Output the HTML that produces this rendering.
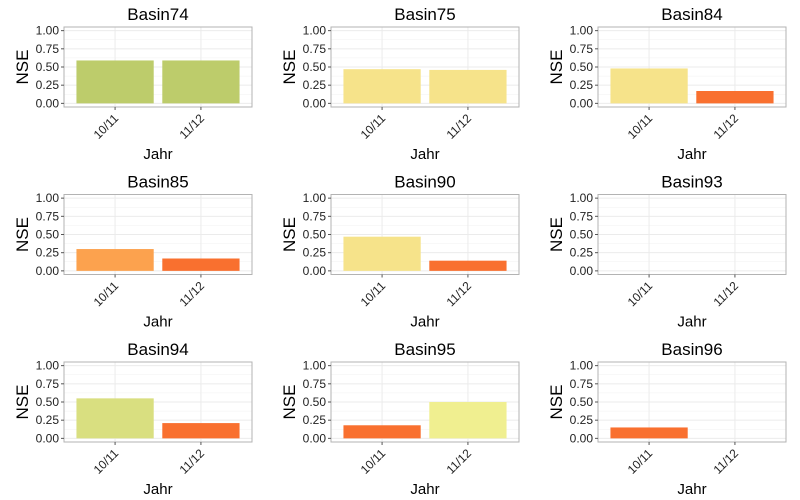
<!DOCTYPE html>
<html><head><meta charset="utf-8">
<style>
body{margin:0;background:#fff;}
svg{display:block;font-family:"Liberation Sans",Arial,sans-serif;}
</style></head>
<body>
<svg id="c" width="800" height="500" xmlns="http://www.w3.org/2000/svg"></svg>
<script>
const basins = ["Basin74","Basin75","Basin84","Basin85","Basin90","Basin93","Basin94","Basin95","Basin96"];
const years = ["10/11","11/12"];
const nse1011 = [0.59,0.47,0.48,0.30,0.47,null,0.55,0.18,0.15];
const nse1112 = [0.59,0.46,0.17,0.17,0.14,null,0.21,0.50,null];
const col1011 = ["#bdcc6b","#f6e38a","#f6e38a","#fca24e","#f6e38a","#fff","#d9df80","#f9702f","#f9702f"];
const col1112 = ["#bdcc6b","#f6e38a","#f9702f","#f9702f","#f9702f","#fff","#f9702f","#f0ef90","#fff"];
const yTicks = [0,0.25,0.5,0.75,1.0];
const yTickLabels = ["0.00","0.25","0.50","0.75","1.00"];

const svg = document.getElementById('c');
const NS = "http://www.w3.org/2000/svg";
function mk(tag, attrs, parent){const e=document.createElementNS(NS,tag);for(const k in attrs)e.setAttribute(k,attrs[k]);(parent||svg).appendChild(e);return e;}

const PW=188, PH=80;
basins.forEach((b,i)=>{
  const ox = 64 + (i%3)*267;
  const oy = 27 + Math.floor(i/3)*167.5;
  const y = v => oy + PH - ((v + 0.05)/1.1)*PH;
  const band = PW/2.19;
  const x = j => ox + PW/2 + (j-0.5)*band;
  const g = mk('g',{});
  
  
  for(let t=0.125;t<1.05;t+=0.25){ mk('line',{x1:ox,x2:ox+PW,y1:y(t),y2:y(t),stroke:'#f2f2f2','stroke-width':0.5},g); }
  yTicks.forEach(t=>mk('line',{x1:ox,x2:ox+PW,y1:y(t),y2:y(t),stroke:'#ebebeb','stroke-width':1},g));
  years.forEach((yr,j)=>mk('line',{x1:x(j),x2:x(j),y1:oy,y2:oy+PH,stroke:'#ebebeb','stroke-width':1},g));
  const vals=[nse1011[i],nse1112[i]], cols=[col1011[i],col1112[i]];
  vals.forEach((v,j)=>{
    if(v==null) return;
    const r = mk('rect',{x:x(j)-band*0.45,width:band*0.9,y:y(v),height:y(0)-y(v),fill:cols[j]},g);
    
    
  });
  mk('rect',{x:ox,y:oy,width:PW,height:PH,fill:'none',stroke:'#b3b3b3','stroke-width':1},g);
  yTicks.forEach((t,k)=>{
    mk('line',{x1:ox-3,x2:ox,y1:y(t),y2:y(t),stroke:'#555'},g);
    const tx=mk('text',{x:ox-5,y:y(t)+4,'text-anchor':'end','font-size':12,fill:'#222'},g);
    tx.textContent=yTickLabels[k];
  });
  years.forEach((yr,j)=>{
    mk('line',{x1:x(j),x2:x(j),y1:oy+PH,y2:oy+PH+3,stroke:'#555'},g);
    const px=x(j)+4, py=oy+PH+12;
    const tx=mk('text',{x:px,y:py,'text-anchor':'end','font-size':12,fill:'#222',transform:`rotate(-45 ${px} ${py})`},g);
    tx.textContent=yr;
  });
  const title=mk('text',{x:ox+PW/2,y:oy-7,'text-anchor':'middle','font-size':17,fill:'#000'},g);
  title.textContent=b;
  
  
  const yl=mk('text',{x:ox-42,y:oy+PH/2,'text-anchor':'middle','font-size':17,fill:'#000',transform:`rotate(-90 ${ox-42} ${oy+PH/2})`,dy:6},g);
  yl.textContent='NSE';
  
  
  const xl=mk('text',{x:ox+PW/2,y:oy+PH+52,'text-anchor':'middle','font-size':15,fill:'#000'},g);
  xl.textContent='Jahr';
  
  
});
</script>
</body></html>
